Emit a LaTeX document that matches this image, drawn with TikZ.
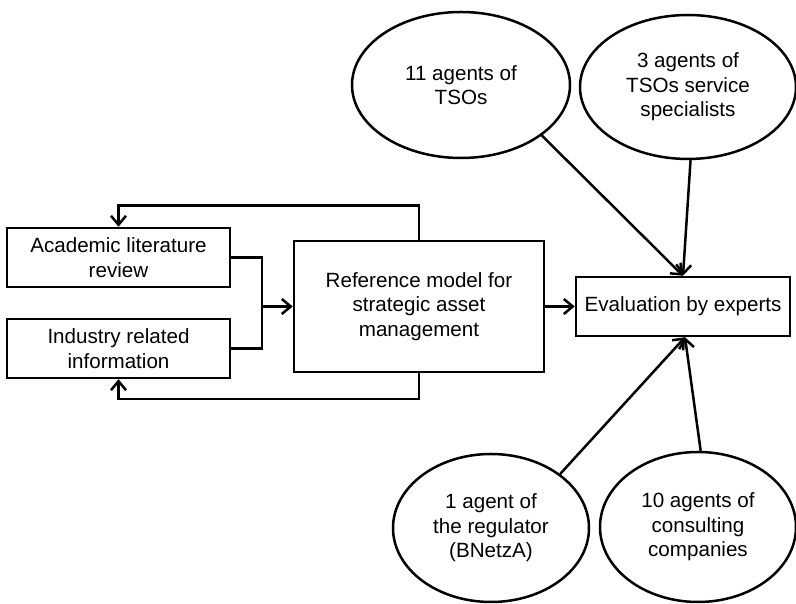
\documentclass[tikz,border=0pt]{standalone}
\usepackage{fontspec}
\setmainfont{Liberation Sans}
\usetikzlibrary{arrows.meta,shapes.geometric}
\begin{document}
\begin{tikzpicture}[x=1pt,y=1pt,
  every node/.style={font=\fontsize{20.6}{24.5}\selectfont, align=center, inner sep=0pt},
  box/.style={draw, rectangle, line width=2.5pt},
  agent/.style={draw, ellipse, line width=2.5pt},
  link/.style={line width=2.5pt},
  flow/.style={line width=2.5pt, -{Straight Barb[length=9pt,width=15pt,line width=2.5pt]}}]
\useasboundingbox (0,0) rectangle (796,604);

% sources and model
\node[box, minimum width=223pt, minimum height=59pt] (acad) at (118.5,346.5) {Academic literature\\review};
\node[box, minimum width=223pt, minimum height=59pt] (ind) at (118.5,255.5) {Industry related\\information};
\node[box, minimum width=250pt, minimum height=131pt] (ref) at (419,297.5) {Reference model for\\strategic asset\\management};
\node[box, minimum width=214pt, minimum height=59pt] (eval) at (683,297.5) {Evaluation by experts};

% expert groups
\node[agent, minimum width=218pt, minimum height=146pt] (tso) at (461,519) {11 agents of\\TSOs};
\node[agent, minimum width=216pt, minimum height=144pt] (svc) at (688,517) {3 agents of\\TSOs service\\specialists};
\node[agent, minimum width=196pt, minimum height=148pt] (reg) at (491,76) {1 agent of\\the regulator\\(BNetzA)};
\node[agent, minimum width=196pt, minimum height=150pt] (cons) at (698,77) {10 agents of\\consulting\\companies};

% merging the two inputs
\coordinate (jn) at (262,297.5);
\draw[link] (acad.east) -| (jn);
\draw[link] (ind.east) -| (jn);
\draw[flow] (jn) -- (ref.west);

% feedback loops
\draw[flow] (ref.north) -- ++(0,34) -| (acad.north);
\draw[flow] (ref.south) -- ++(0,-26) -| (ind.south);

% model to evaluation
\draw[flow] (ref.east) -- (eval.west);

% experts to evaluation
\draw[flow] (tso.-32) -- (eval.north);
\draw[flow] (svc.-88) -- (eval.north);
\draw[flow] (reg.38) -- ([xshift=2pt]eval.south);
\draw[flow] (cons.88) -- ([xshift=2pt]eval.south);
\end{tikzpicture}
\end{document}
